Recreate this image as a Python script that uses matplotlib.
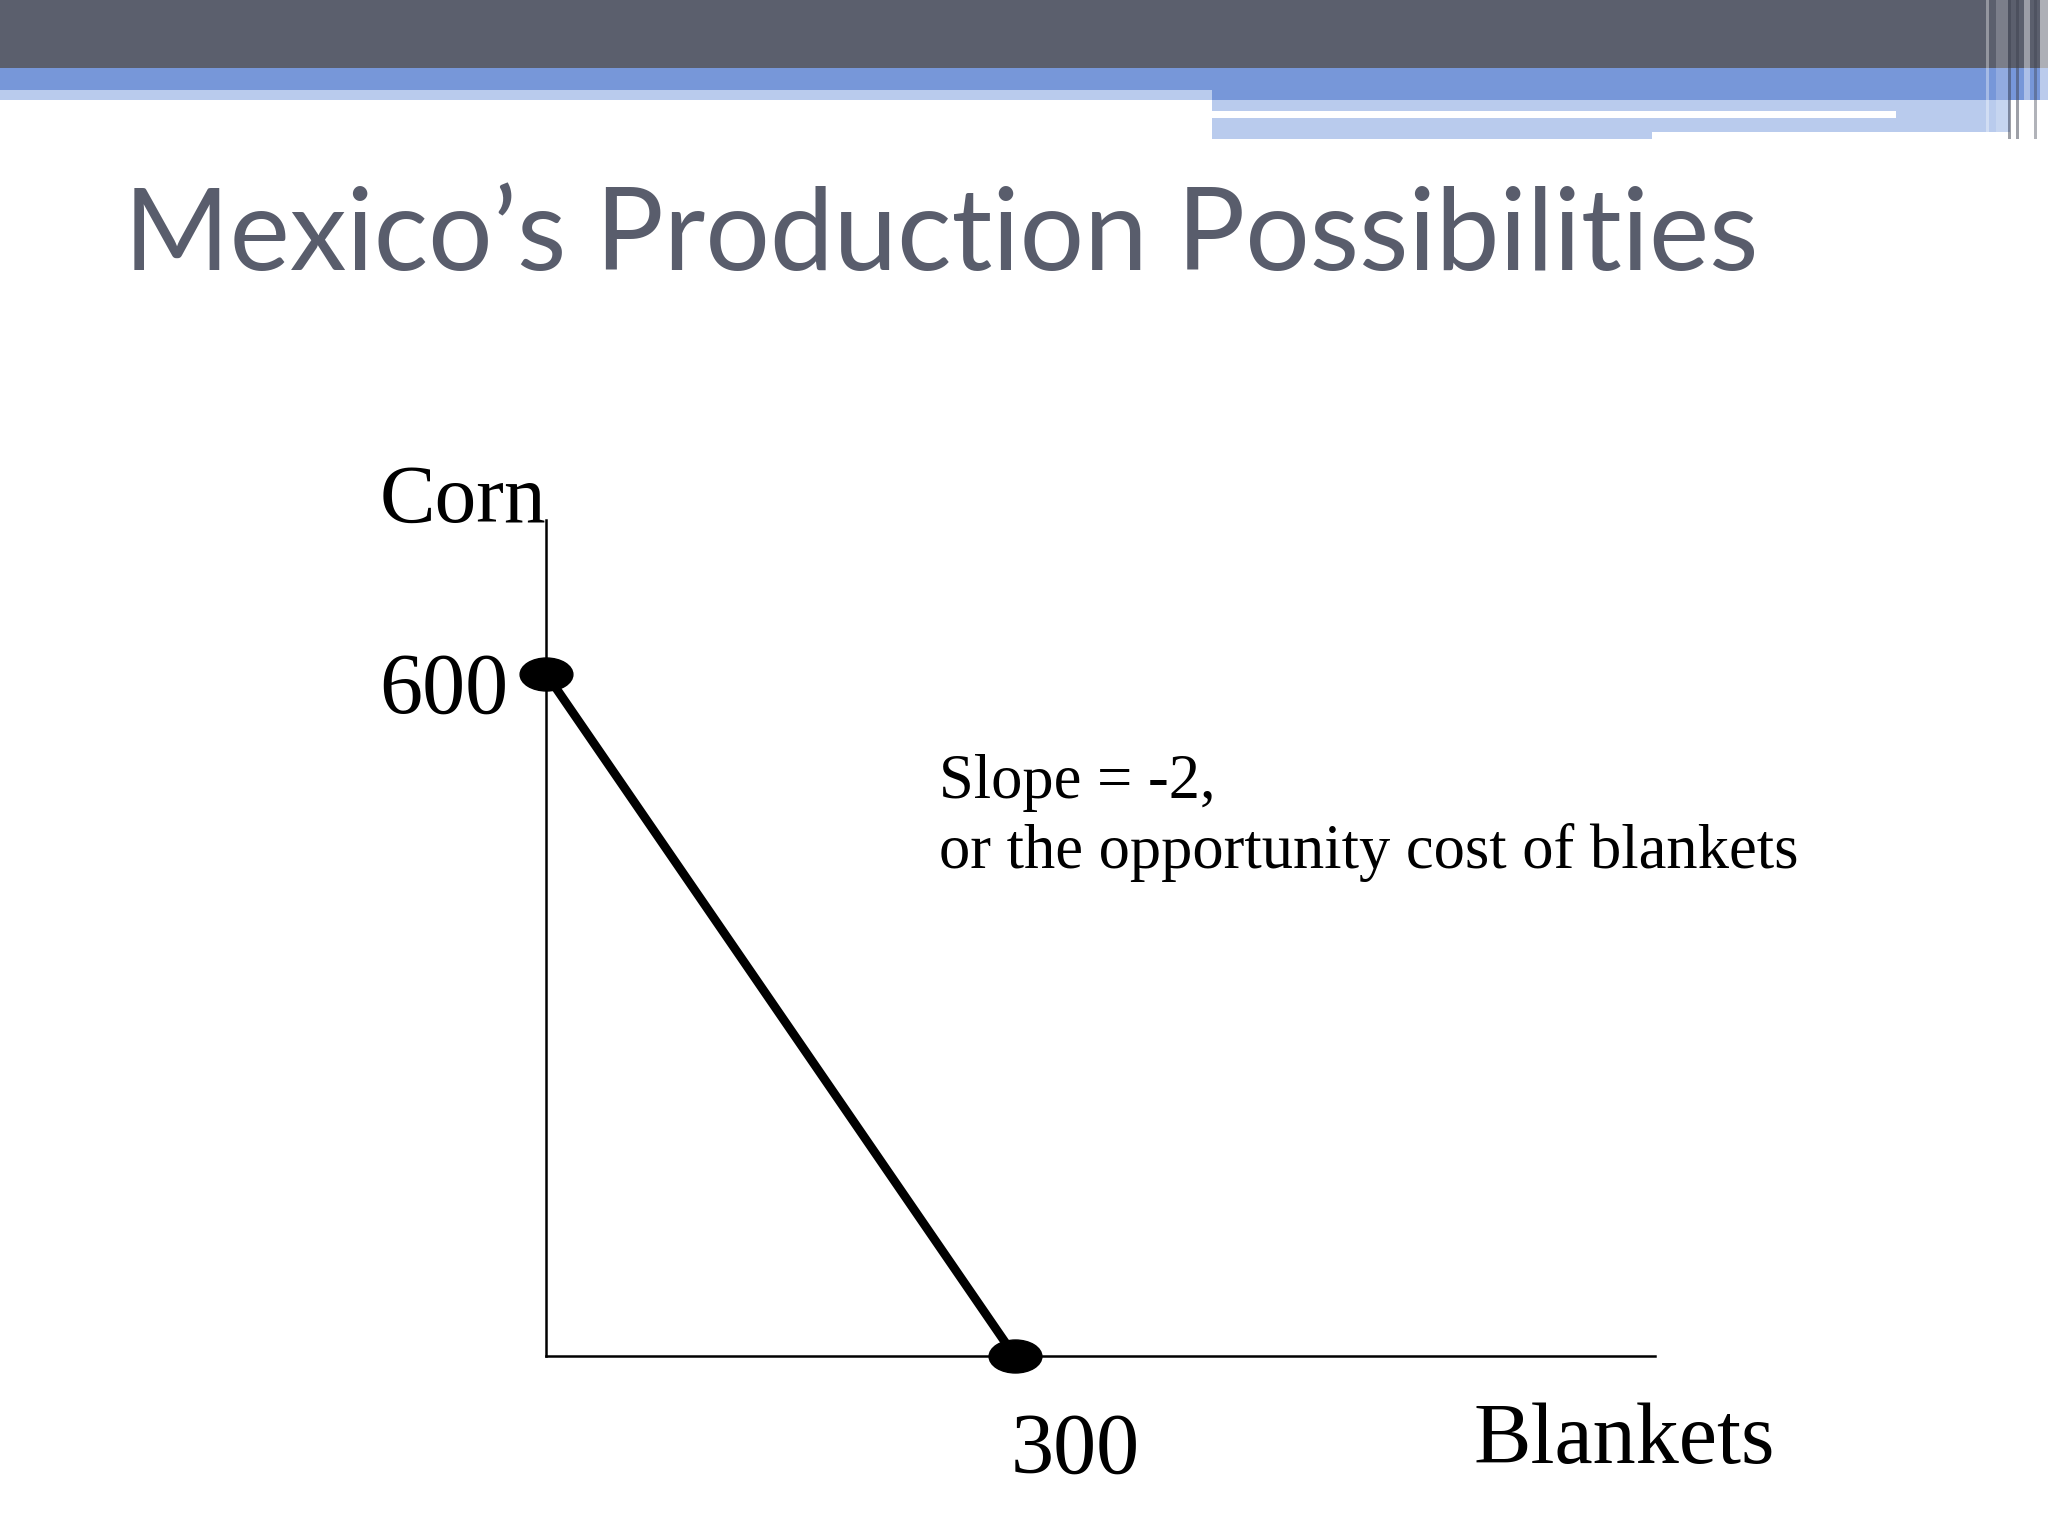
import matplotlib
matplotlib.use("Agg")
import matplotlib.pyplot as plt
from matplotlib.patches import Rectangle
from matplotlib.path import Path
from matplotlib.transforms import Affine2D

# data
ppf_blankets = [0, 300]
ppf_corn = [600, 0]
x_label = "Blankets"
y_label = "Corn"
title = "Mexico\u2019s Production Possibilities"
note = "Slope = -2,\nor the opportunity cost of blankets"

W, H = 2048, 1536
fig = plt.figure(figsize=(W / 100, H / 100), dpi=100)
fig.patch.set_facecolor("white")

# slide background layer in pixel coords
bg = fig.add_axes([0, 0, 1, 1])
bg.set_xlim(0, W)
bg.set_ylim(H, 0)
bg.axis("off")

dark = "#5b5f6d"
blue = "#7797d9"
light = "#b9cbed"

def box(x0, y0, x1, y1, c, a=1.0):
    bg.add_patch(Rectangle((x0, y0), x1 - x0, y1 - y0, color=c, alpha=a, lw=0))

box(0, 0, W, 68, dark)
box(0, 68, W, 90, blue)
box(0, 90, 1212, 100, light)
box(1212, 90, W, 100, blue)
box(1212, 100, 2010, 139, light)
box(1212, 111, 1896, 118, "white")
box(1652, 132, 2011, 139, "white")
# right edge stripes
for sx, sw, c, a in [(1986, 3, "white", 0.35), (1996, 12, "white", 0.2),
                     (2008, 3, "#3e4250", 0.5), (2016, 3, "#3e4250", 0.5),
                     (2024, 6, "white", 0.4), (2034, 3, "#3e4250", 0.4),
                     (2040, 8, "white", 0.5)]:
    box(sx, 0, sx + sw, 139, c, a)

bg.text(124, 270, title, fontsize=82, family="Lato", color="#595d6c",
        va="baseline", ha="left")

# PPF chart
ax = fig.add_axes([546 / W, 1 - 1356 / H, 1109 / W, 836 / H])
ax.set_xlim(0, 710)
ax.set_ylim(0, 735)
ax.patch.set_alpha(0)
for s in ["top", "right"]:
    ax.spines[s].set_visible(False)
for s in ["left", "bottom"]:
    ax.spines[s].set_linewidth(1.8)
    ax.spines[s].set_color("black")
ax.set_xticks([])
ax.set_yticks([])

ax.plot(ppf_blankets, ppf_corn, color="black", lw=6.3, solid_capstyle="butt",
        clip_on=False, zorder=3)
ell = Path.unit_circle().transformed(Affine2D().scale(1.6, 1.0))
ax.plot(ppf_blankets, ppf_corn, ls="none", marker=ell, markersize=38,
        color="black", clip_on=False, zorder=4)

serif = "Liberation Serif"
ax.annotate(str(ppf_corn[0]), (ppf_blankets[0], ppf_corn[0]), xytext=(-120, -28),
            textcoords="offset points", fontsize=62, family=serif,
            ha="left", va="baseline", annotation_clip=False)
ax.annotate(str(ppf_blankets[1]), (ppf_blankets[1], ppf_corn[1]), xytext=(-3, -84),
            textcoords="offset points", fontsize=62, family=serif,
            ha="left", va="baseline", annotation_clip=False)

bg.text(380, 522, y_label, fontsize=60, family=serif, ha="left", va="baseline")
bg.text(1473, 1463, x_label, fontsize=62, family=serif, ha="left", va="baseline")
bg.text(939, 868, note, fontsize=45, family=serif, ha="left", va="baseline",
        linespacing=1.24)

fig.savefig("out.png", dpi=100, facecolor="white")
